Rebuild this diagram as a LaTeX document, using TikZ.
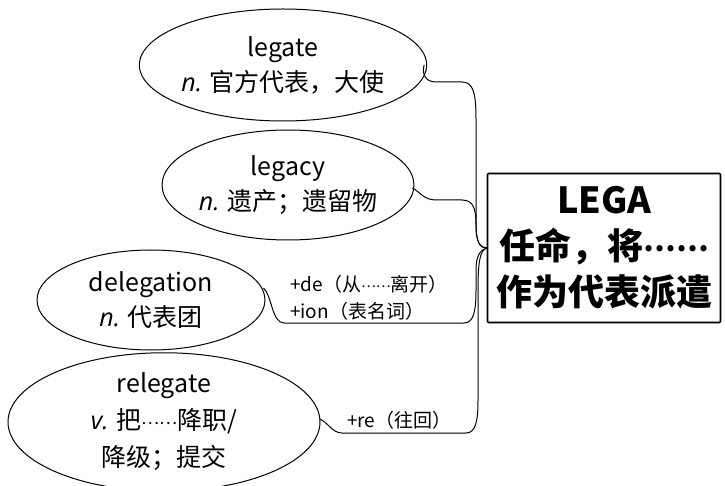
\documentclass[tikz,border=0pt]{standalone}
\usepackage{fontspec}
\setmainfont{Noto Sans CJK SC}
\newfontfamily\latf{Open Sans}
\usetikzlibrary{shapes.geometric}
\newcommand{\pos}[1]{{\latf\itshape #1}}
\newcommand{\mdots}{\raisebox{0.3em}{……}}
\tikzset{
  wordnode/.style={draw, ellipse, line width=1pt, inner sep=0pt, align=center,
    font=\fontsize{25}{35}\selectfont},
  rootbox/.style={draw, rectangle, line width=1.6pt, rounded corners=1pt, align=center,
    font=\fontsize{36}{46}\selectfont\bfseries, minimum width=233pt, minimum height=149pt, inner sep=0pt},
  conn/.style={line width=1pt},
  lab/.style={align=left, anchor=west, inner sep=0pt, font=\fontsize{19}{27}\selectfont}
}
\begin{document}
\begin{tikzpicture}[x=1pt,y=-1pt]
\useasboundingbox (0,0) rectangle (725,486);
\begin{scope}
\clip (0,0) rectangle (725,486);
\node[rootbox] (root) at (604,248) {LEGA\\任命，将{\fontsize{29}{29}\selectfont\mdots}\\作为代表派遣};
\node[wordnode, minimum width=270pt, minimum height=112pt] (e1) at (283,65) {legate\\\pos{n.} 官方代表，大使};
\node[wordnode, minimum width=250pt, minimum height=110pt] (e2) at (288,185) {legacy\\\pos{n.} 遗产；遗留物};
\node[wordnode, minimum width=228pt, minimum height=100pt] (e3) at (151,300) {delegation\\\pos{n.} 代表团};
\node[wordnode, minimum width=312pt, minimum height=138pt, font=\fontsize{25}{37}\selectfont] (e4) at (164,422) {relegate\\\pos{v.} 把{\fontsize{17}{17}\selectfont\mdots}降职/\\降级；提交};

\node[lab] (l1) at (290,298) {+de（从{\fontsize{14}{14}\selectfont\mdots}离开）\\+ion（表名词）};
\node[lab] (l2) at (347,420) {+re（往回）};

\draw[conn] (e1.east) ++(-3,0) coordinate (s1)
  (s1) .. controls (422,72) and (424,82) .. (436,82) -- (462,82)
  .. controls (474,82) and (476,95) .. (476,120) -- (476,225)
  .. controls (476,242) and (480,248) .. (root.west);
\draw[conn] (e2.east) ++(-2,3) coordinate (s2)
  (s2) .. controls (420,192) and (424,200) .. (436,200) -- (462,200)
  .. controls (474,200) and (476,210) .. (476,225)
  .. controls (476,242) and (480,248) .. (root.west);
\draw[conn] (e3.east) ++(-2,-12) coordinate (s3)
  (s3) .. controls (272,296) and (272,323) .. (284,323) -- (464,323)
  .. controls (474,323) and (476,310) .. (476,290) -- (476,270)
  .. controls (476,256) and (480,250) .. (root.west);
\draw[conn] (e4.east) ++(-1,-3) coordinate (s4)
  (s4) .. controls (328,422) and (332,433) .. (342,433) -- (466,433)
  .. controls (476,433) and (478,420) .. (478,400) -- (478,290)
  .. controls (478,262) and (480,250) .. (root.west);
\end{scope}
\end{tikzpicture}
\end{document}
